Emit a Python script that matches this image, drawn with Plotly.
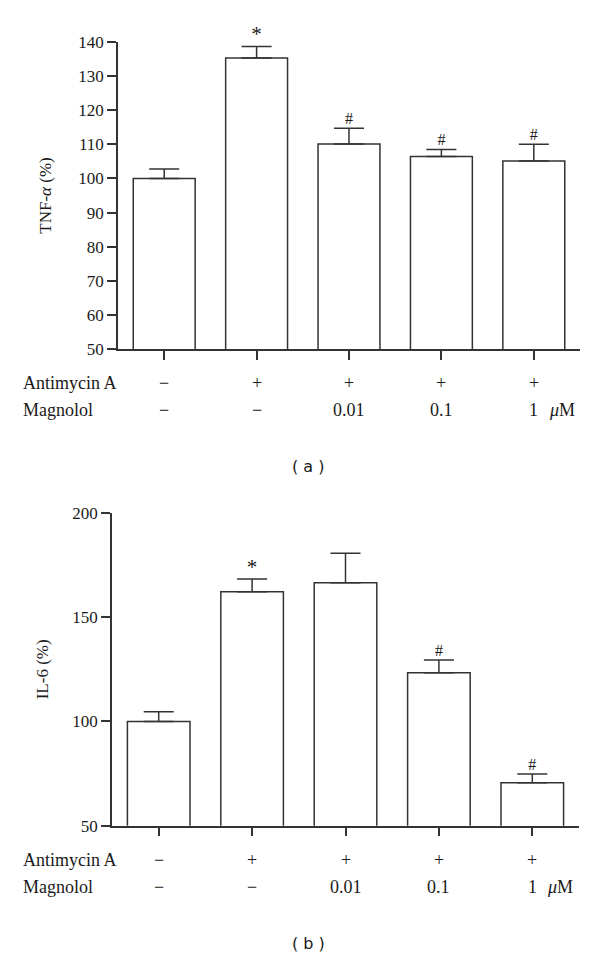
import plotly.graph_objects as go

# panel (a) TNF-alpha
tnf_mean = [100, 135.3, 110.1, 106.4, 105.1]
tnf_err = [2.8, 3.4, 4.6, 2.1, 4.9]
tnf_sig = ['', '*', '#', '#', '#']

# panel (b) IL-6
il6_mean = [100, 162.2, 166.6, 123.4, 70.6]
il6_err = [4.7, 6.2, 14.1, 6.1, 4.2]
il6_sig = ['', '*', '', '#', '#']

antimycin = ['\u2212', '+', '+', '+', '+']
magnolol = ['\u2212', '\u2212', '0.01', '0.1', '1']

GROUPS = [0, 1, 2, 3, 4]
INK = '#333333'
TEXT = '#1a1a1a'
SERIF = 'Liberation Serif, Times New Roman, serif'
W, H = 600, 960
OFF = 8  # page body margin


def px_x(p):
    return (p - OFF) / W


def px_y(p):
    return 1 - (p - OFF) / H


fig = go.Figure()

panels = [
    dict(mean=tnf_mean, err=tnf_err, sig=tnf_sig, xa='x', ya='y'),
    dict(mean=il6_mean, err=il6_err, sig=il6_sig, xa='x2', ya='y2'),
]

for p in panels:
    fig.add_trace(go.Bar(
        x=GROUPS, y=p['mean'],
        xaxis=p['xa'], yaxis=p['ya'],
        width=0.67,
        marker=dict(color='white', line=dict(color=INK, width=1.5)),
        error_y=dict(type='data', symmetric=False, array=p['err'],
                     arrayminus=[0] * 5, color=INK, thickness=1.5, width=15),
        showlegend=False,
    ))
    fig.add_trace(go.Scatter(
        x=GROUPS, y=[m + e for m, e in zip(p['mean'], p['err'])],
        xaxis=p['xa'], yaxis=p['ya'],
        mode='text', text=p['sig'], textposition='top center',
        textfont=dict(family=SERIF, color=TEXT,
                      size=[21 if s == '*' else 16 for s in p['sig']]),
        cliponaxis=False, showlegend=False, hoverinfo='skip',
    ))

axis_common = dict(
    showgrid=False, zeroline=False, showline=True, linecolor=INK, linewidth=1.5,
    ticks='outside', ticklen=9, tickwidth=1.5, tickcolor=INK, automargin=False,
    tickfont=dict(family=SERIF, size=17, color=TEXT),
)
title_font = dict(family=SERIF, size=17, color=TEXT)

fig.update_layout(
    width=W, height=H,
    paper_bgcolor='white', plot_bgcolor='white',
    margin=dict(l=0, r=0, t=0, b=0),
    font=dict(family=SERIF, size=18, color=TEXT),
    xaxis=dict(**axis_common, domain=[px_x(118), px_x(580)], range=[-0.5, 4.5],
               showticklabels=False, tickvals=GROUPS, anchor='y'),
    yaxis=dict(**axis_common, domain=[px_y(349), px_y(42)], range=[50, 140],
               dtick=10, anchor='x',
               title=dict(text='TNF-<i>\u03b1</i> (%)', standoff=22, font=title_font)),
    xaxis2=dict(**axis_common, domain=[px_x(112), px_x(579)], range=[-0.5, 4.5],
                showticklabels=False, tickvals=GROUPS, anchor='y2'),
    yaxis2=dict(**axis_common, domain=[px_y(825.7), px_y(513)], range=[50, 200],
                tickvals=[50, 100, 150, 200], anchor='x2',
                title=dict(text='IL-6 (%)', standoff=19, font=title_font)),
)

# treatment rows under each panel
rows = [('x', px_y(383), px_y(410), px_y(466), '( a )'),
        ('x2', px_y(860), px_y(887), px_y(943), '( b )')]
for xref, y1, y2, ycap, cap in rows:
    fig.add_annotation(text='Antimycin A', xref='paper', yref='paper', x=px_x(21), y=y1,
                       xanchor='left', yanchor='middle', showarrow=False,
                       font=dict(family=SERIF, size=18, color=TEXT))
    fig.add_annotation(text='Magnolol', xref='paper', yref='paper', x=px_x(21), y=y2,
                       xanchor='left', yanchor='middle', showarrow=False,
                       font=dict(family=SERIF, size=18, color=TEXT))
    for g, a, m in zip(GROUPS, antimycin, magnolol):
        fig.add_annotation(text=a, xref=xref, yref='paper', x=g, y=y1,
                           xanchor='center', yanchor='middle', showarrow=False)
        fig.add_annotation(text=m, xref=xref, yref='paper', x=g, y=y2,
                           xanchor='center', yanchor='middle', showarrow=False)
    fig.add_annotation(text='<i>\u03bc</i>M', xref=xref, yref='paper', x=GROUPS[-1], y=y2,
                       xanchor='left', yanchor='middle', xshift=13, showarrow=False)
    fig.add_annotation(text=cap, xref='paper', yref='paper', x=px_x(308), y=ycap,
                       xanchor='center', yanchor='middle', showarrow=False,
                       font=dict(family='DejaVu Sans, sans-serif', size=16, color=TEXT))

fig.write_html('out.html')
